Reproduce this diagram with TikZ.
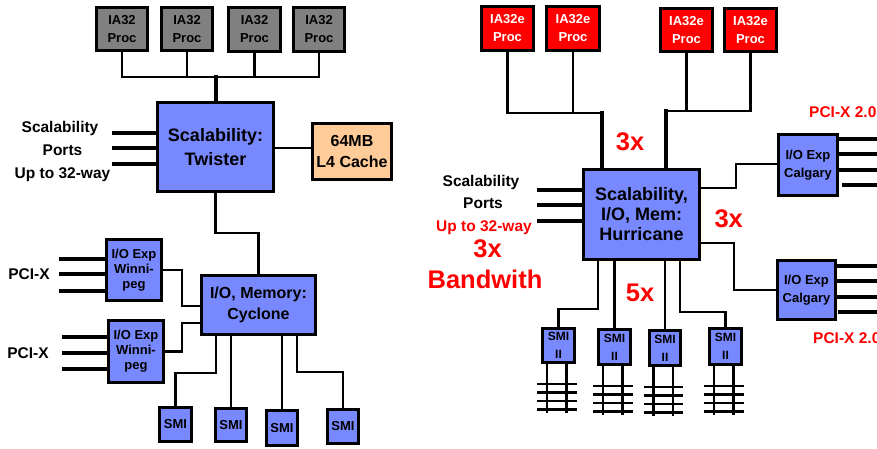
\documentclass[tikz,border=0pt]{standalone}
\usepackage{fontspec}
\setmainfont{Liberation Sans}
\usetikzlibrary{calc}
\definecolor{boxblue}{HTML}{7888FF}
\definecolor{procgray}{HTML}{808080}
\definecolor{procred}{HTML}{FF0000}
\definecolor{cachebg}{HTML}{FFCC99}
\definecolor{txtred}{HTML}{FF0000}
\newcommand\fz[2]{\fontsize{#1}{#2}\selectfont\bfseries}
\begin{document}
\begin{tikzpicture}[x=1pt,y=-1pt,
  box/.style={draw=black,line width=3pt,inner sep=0pt,align=center},
  bbox/.style={box,fill=boxblue},
  gproc/.style={box,fill=procgray,font=\fz{13}{18}},
  rproc/.style={box,fill=procred,text=white,font=\fz{13}{18}},
  wire/.style={line width=2.3pt},
  bus/.style={line width=4pt,line cap=rect},
  port/.style={line width=4pt},
  tick/.style={line width=2.5pt},
  lbl/.style={anchor=base,inner sep=0pt,font=\fz{15.5}{18}},
  big/.style={anchor=base,inner sep=0pt,text=txtred,font=\fz{25.5}{30}}]
\useasboundingbox (0,0) rectangle (877,448);
\clip (0,0) rectangle (877,448);
\fill[white] (0,0) rectangle (877,448);

% ---------------- left system ----------------
\node[gproc,minimum width=51pt,minimum height=43pt] (p1) at (122,29) {IA32\\Proc};
\node[gproc,minimum width=51pt,minimum height=43pt] (p2) at (187,29) {IA32\\Proc};
\node[gproc,minimum width=52pt,minimum height=44pt] (p3) at (254.5,29.5) {IA32\\Proc};
\node[gproc,minimum width=51pt,minimum height=44pt] (p4) at (319,29.5) {IA32\\Proc};

\node[bbox,minimum width=116pt,minimum height=89pt,font=\fz{18}{24}] (tw) at (215.5,147) {Scalability:\\Twister};
\node[box,fill=cachebg,minimum width=79pt,minimum height=56pt,font=\fz{16}{21}] (l4) at (352,151.5) {64MB\\L4 Cache};
\node[bbox,minimum width=114pt,minimum height=59pt,font=\fz{16}{21}] (cy) at (258.5,305) {I/O, Memory:\\Cyclone};
\node[bbox,minimum width=55pt,minimum height=61pt,font=\fz{13}{15}] (w1) at (134,270) {I/O Exp\\Winni-\\peg};
\node[bbox,minimum width=55pt,minimum height=62pt,font=\fz{13}{15}] (w2) at (136,351.5) {I/O Exp\\Winni-\\peg};
\node[bbox,minimum width=32pt,minimum height=34pt,font=\fz{13}{15}] (smi1) at (175.5,424.5) {SMI};
\node[bbox,minimum width=31pt,minimum height=33pt,font=\fz{13}{15}] (smi2) at (231,425) {SMI};
\node[bbox,minimum width=31pt,minimum height=35pt,font=\fz{13}{15}] (smi3) at (282,428) {SMI};
\node[bbox,minimum width=31pt,minimum height=34pt,font=\fz{13}{15}] (smi4) at (343,426.5) {SMI};

\coordinate (lbus) at (216,77);
\draw[wire] (p1.south) |- (lbus) -| (p4.south);
\draw[wire] (p2.south) -- (p2.south |- lbus);
\draw[wire] (p3.south) -- (p3.south |- lbus);
\draw[bus] (lbus) -- (lbus |- tw.north);

\foreach \y in {133,148,164} \draw[port] (tw.west |- 0,\y) -- (112,\y);
\draw[wire] (tw.east |- 0,148) -- (l4.west |- 0,148);
\draw[wire] (tw.south) -- ++(0,40) -| (cy.north);
\draw[wire] (w1.east) -| (182,306) -- (cy.west |- 0,306);
\draw[wire] (w2.east) -| (182,323) -- (cy.west |- 0,323);
\foreach \y in {259,274,291} \draw[port] (w1.west |- 0,\y) -- (59,\y);
\foreach \y in {337,353,369} \draw[port] (w2.west |- 0,\y) -- (62,\y);

\draw[wire] (cy.south -| 216,0) |- (smi1.north |- 0,373) -- (smi1.north);
\draw[wire] (cy.south -| smi2.north) -- (smi2.north);
\draw[wire] (cy.south -| smi3.north) -- (smi3.north);
\draw[wire] (cy.south -| 297,0) |- (smi4.north |- 0,372) -- (smi4.north);

\node[lbl] (ls1) at (60,132) {Scalability};
\node[lbl] (ls2) at (62.5,155) {Ports};
\node[lbl] (ls3) at (62.5,178) {Up to 32-way};
\node[lbl] (pcx1) at (29,279) {PCI-X};
\node[lbl] (pcx2) at (28,358) {PCI-X};

% ---------------- right system ----------------
\node[rproc,minimum width=52pt,minimum height=44pt] (q1) at (507.5,28.5) {IA32e\\Proc};
\node[rproc,minimum width=53pt,minimum height=44pt] (q2) at (573,28.5) {IA32e\\Proc};
\node[rproc,minimum width=52pt,minimum height=43pt] (q3) at (686.5,30) {IA32e\\Proc};
\node[rproc,minimum width=52pt,minimum height=43pt] (q4) at (750.5,30) {IA32e\\Proc};

\node[bbox,minimum width=116pt,minimum height=90pt,font=\fz{18}{20}] (hu) at (641.5,214.5) {Scalability,\\I/O, Mem:\\Hurricane};
\node[bbox,minimum width=59pt,minimum height=61pt,font=\fz{13}{18}] (c1) at (808,165) {I/O Exp\\Calgary};
\node[bbox,minimum width=58pt,minimum height=59pt,font=\fz{13}{18}] (c2) at (806.5,290) {I/O Exp\\Calgary};
\node[bbox,minimum width=32pt,minimum height=34pt,font=\fz{12}{18}] (r1) at (558.5,345.5) {SMI\\II};
\node[bbox,minimum width=32pt,minimum height=35pt,font=\fz{12}{18}] (r2) at (614.5,347) {SMI\\II};
\node[bbox,minimum width=31pt,minimum height=35pt,font=\fz{12}{18}] (r3) at (665,348) {SMI\\II};
\node[bbox,minimum width=32pt,minimum height=36pt,font=\fz{12}{18}] (r4) at (725.5,346.5) {SMI\\II};

\coordinate (rb1) at (602,113);
\coordinate (rb2) at (666,111);
\draw[wire] (q1.south) |- (rb1);
\draw[wire] (q2.south) -- (q2.south |- rb1);
\draw[wire] (q3.south) |- (rb2);
\draw[wire] (q4.south) |- (rb2);
\draw[bus] (rb1) -- (rb1 |- hu.north);
\draw[bus] (rb2) -- (rb2 |- hu.north);

\foreach \y in {190,205,221} \draw[port] (hu.west |- 0,\y) -- (537,\y);
\draw[wire] (hu.east |- 0,188) -| (736,164) -- (c1.west |- 0,164);
\draw[wire] (hu.east |- 0,243) -| (734,290) -- (c2.west);
\foreach \y in {139,154,170} \draw[port] (c1.east |- 0,\y) -- (885,\y);
\draw[port] ($(c1.east |- 0,185)+(3,0)$) -- (885,185);
\foreach \y in {266,281,297} \draw[port] (c2.east |- 0,\y) -- (885,\y);
\draw[port] ($(c2.east |- 0,312)+(1,0)$) -- (885,312);

\draw[wire] (hu.south -| 598,0) |- (r1.north |- 0,309) -- (r1.north);
\draw[wire] (hu.south -| r2.north) -- (r2.north);
\draw[wire] (hu.south -| r3.north) -- (r3.north);
\draw[wire] (hu.south -| 680,0) |- (r4.north |- 0,312) -- (r4.north);

\foreach \b in {r1,r2,r3,r4}{
  \foreach \dx in {-11.5,8}{
    \draw[wire] ($(\b.south)+(\dx,0)$) -- ++(0,49);
    \foreach \dy in {20,28.5,37,45.5}
      \draw[tick] ($(\b.south)+(\dx-10,\dy)$) -- ++(20,0);
  }
}

\node[lbl] (rs1) at (481,186) {Scalability};
\node[lbl] (rs2) at (483,208) {Ports};
\node[lbl,text=txtred] (rs3) at (484,231) {Up to 32-way};
\node[big] (bw1) at (487.5,257) {3x};
\node[big] (bw2) at (485,288) {Bandwith};
\node[big] (x3a) at (630,150) {3x};
\node[big] (x3b) at (728.7,227) {3x};
\node[big] (x5) at (640,301) {5x};
\node[lbl,anchor=base west,text=txtred] (pc1) at (809,117) {PCI-X 2.0};
\node[lbl,anchor=base west,text=txtred] (pc2) at (813,343) {PCI-X 2.0};
\end{tikzpicture}
\end{document}
